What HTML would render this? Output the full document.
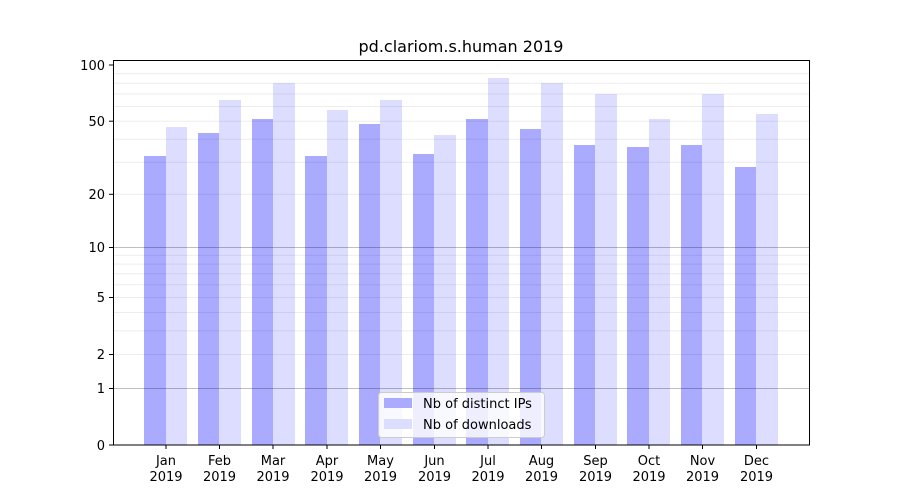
<!DOCTYPE html>
<html><head><meta charset="utf-8"><style>body{margin:0;background:#fff}svg{display:block}text{font-family:"DejaVu Sans","Liberation Sans",sans-serif;font-size:13px;fill:#000}</style></head><body>
<svg width="900" height="500" xmlns="http://www.w3.org/2000/svg">
<rect width="900" height="500" fill="#fff"/>
<g>
<rect x="144" y="156" width="22" height="289" fill="#aaaaff"/><rect x="166" y="127" width="21" height="318" fill="#ddddff"/>
<rect x="198" y="133" width="21" height="312" fill="#aaaaff"/><rect x="219" y="100" width="22" height="345" fill="#ddddff"/>
<rect x="252" y="119" width="21" height="326" fill="#aaaaff"/><rect x="273" y="83" width="22" height="362" fill="#ddddff"/>
<rect x="305" y="156" width="22" height="289" fill="#aaaaff"/><rect x="327" y="110" width="21" height="335" fill="#ddddff"/>
<rect x="359" y="124" width="21" height="321" fill="#aaaaff"/><rect x="380" y="100" width="22" height="345" fill="#ddddff"/>
<rect x="413" y="154" width="21" height="291" fill="#aaaaff"/><rect x="434" y="135" width="22" height="310" fill="#ddddff"/>
<rect x="466" y="119" width="22" height="326" fill="#aaaaff"/><rect x="488" y="78" width="21" height="367" fill="#ddddff"/>
<rect x="520" y="129" width="21" height="316" fill="#aaaaff"/><rect x="541" y="83" width="22" height="362" fill="#ddddff"/>
<rect x="574" y="145" width="21" height="300" fill="#aaaaff"/><rect x="595" y="94" width="22" height="351" fill="#ddddff"/>
<rect x="627" y="147" width="22" height="298" fill="#aaaaff"/><rect x="649" y="119" width="21" height="326" fill="#ddddff"/>
<rect x="681" y="145" width="21" height="300" fill="#aaaaff"/><rect x="702" y="94" width="22" height="351" fill="#ddddff"/>
<rect x="735" y="167" width="21" height="278" fill="#aaaaff"/><rect x="756" y="114" width="22" height="331" fill="#ddddff"/>
</g>
<g stroke="#000" stroke-opacity="0.07" stroke-width="1">
<line x1="113" x2="810" y1="354.5" y2="354.5"/><line x1="113" x2="810" y1="330.9" y2="330.9"/><line x1="113" x2="810" y1="312.5" y2="312.5"/><line x1="113" x2="810" y1="297.5" y2="297.5"/><line x1="113" x2="810" y1="284.8" y2="284.8"/><line x1="113" x2="810" y1="273.8" y2="273.8"/><line x1="113" x2="810" y1="264.1" y2="264.1"/><line x1="113" x2="810" y1="255.4" y2="255.4"/>
<line x1="113" x2="810" y1="194.3" y2="194.3"/><line x1="113" x2="810" y1="162.2" y2="162.2"/><line x1="113" x2="810" y1="139.2" y2="139.2"/><line x1="113" x2="810" y1="121.2" y2="121.2"/><line x1="113" x2="810" y1="106.5" y2="106.5"/><line x1="113" x2="810" y1="94" y2="94"/><line x1="113" x2="810" y1="83.2" y2="83.2"/><line x1="113" x2="810" y1="73.6" y2="73.6"/>
</g>
<g stroke="#000" stroke-opacity="0.25"><line x1="113" x2="810" y1="388.5" y2="388.5"/><line x1="113" x2="810" y1="247.5" y2="247.5"/></g>
<rect x="113.5" y="60.5" width="696" height="384.5" fill="none" stroke="#000"/>
<g stroke="#000">
<line x1="109" x2="113" y1="445" y2="445"/><line x1="109" x2="113" y1="388.5" y2="388.5"/><line x1="109" x2="113" y1="354.5" y2="354.5"/><line x1="109" x2="113" y1="297.5" y2="297.5"/><line x1="109" x2="113" y1="247.5" y2="247.5"/><line x1="109" x2="113" y1="194.3" y2="194.3"/><line x1="109" x2="113" y1="121.2" y2="121.2"/><line x1="109" x2="113" y1="65" y2="65"/>
</g>
<g text-anchor="end">
<text x="105" y="450">0</text><text x="105" y="393">1</text><text x="105" y="359">2</text><text x="105" y="302">5</text><text x="105" y="252">10</text><text x="105" y="199">20</text><text x="105" y="126">50</text><text x="105" y="70">100</text>
</g>
<g stroke="#000">
<line x1="166" x2="166" y1="445" y2="449"/><line x1="219.5" x2="219.5" y1="445" y2="449"/><line x1="273" x2="273" y1="445" y2="449"/><line x1="327" x2="327" y1="445" y2="449"/><line x1="380.5" x2="380.5" y1="445" y2="449"/><line x1="434.5" x2="434.5" y1="445" y2="449"/><line x1="488" x2="488" y1="445" y2="449"/><line x1="541.5" x2="541.5" y1="445" y2="449"/><line x1="595.5" x2="595.5" y1="445" y2="449"/><line x1="649" x2="649" y1="445" y2="449"/><line x1="702.5" x2="702.5" y1="445" y2="449"/><line x1="756.5" x2="756.5" y1="445" y2="449"/>
</g>
<g text-anchor="middle">
<text x="166" y="465">Jan</text><text x="166" y="481">2019</text>
<text x="219.5" y="465">Feb</text><text x="219.5" y="481">2019</text>
<text x="273" y="465">Mar</text><text x="273" y="481">2019</text>
<text x="327" y="465">Apr</text><text x="327" y="481">2019</text>
<text x="380.5" y="465">May</text><text x="380.5" y="481">2019</text>
<text x="434.5" y="465">Jun</text><text x="434.5" y="481">2019</text>
<text x="488" y="465">Jul</text><text x="488" y="481">2019</text>
<text x="541.5" y="465">Aug</text><text x="541.5" y="481">2019</text>
<text x="595.5" y="465">Sep</text><text x="595.5" y="481">2019</text>
<text x="649" y="465">Oct</text><text x="649" y="481">2019</text>
<text x="702.5" y="465">Nov</text><text x="702.5" y="481">2019</text>
<text x="756.5" y="465">Dec</text><text x="756.5" y="481">2019</text>
<text x="461" y="52" style="font-size:16px">pd.clariom.s.human 2019</text>
</g>
<rect x="378.5" y="392.5" width="166" height="45" rx="3" fill="#fff" fill-opacity="0.8" stroke="#ccc"/>
<rect x="384" y="398" width="28" height="10" fill="#aaaaff"/>
<rect x="384" y="419" width="28" height="10" fill="#ddddff"/>
<text x="423" y="408">Nb of distinct IPs</text>
<text x="423" y="429">Nb of downloads</text>
</svg>
</body></html>
